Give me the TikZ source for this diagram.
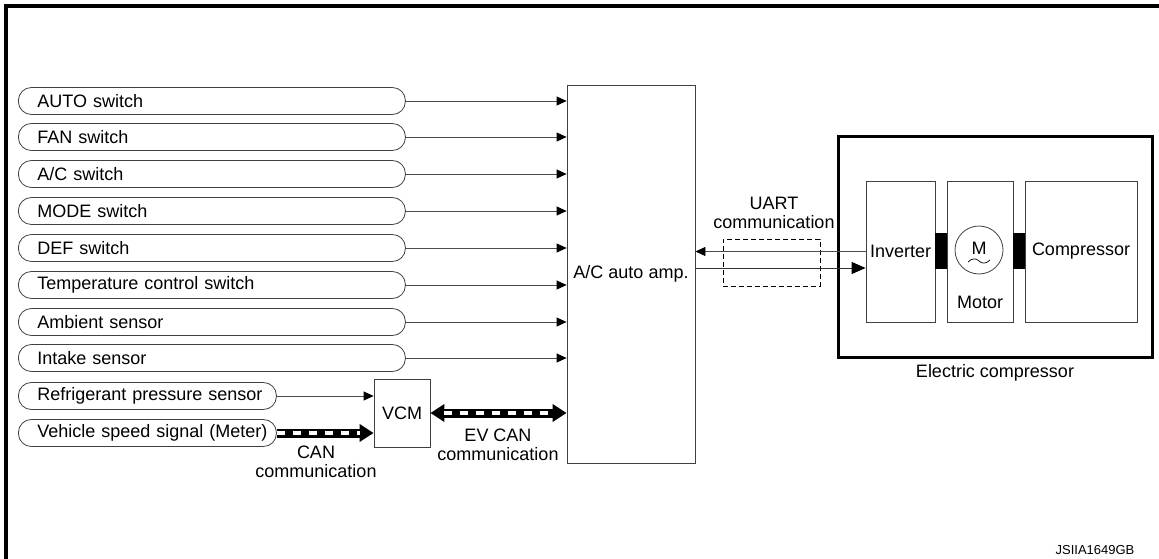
\documentclass[tikz,border=0pt]{standalone}
\usepackage{fontspec}
\setmainfont{Liberation Sans}
\usetikzlibrary{arrows.meta}
\begin{document}
\begin{tikzpicture}[x=1pt,y=-1pt,
  font=\fontsize{18}{19}\selectfont,
  pill/.style={draw=black!75, line width=0.8pt, rounded corners=13pt, minimum height=27pt,
    inner xsep=19pt, inner ysep=0pt, align=left, anchor=west},
  box/.style={draw=black!75, line width=0.8pt, inner sep=0pt},
  sig/.style={draw=black!70, line width=0.8pt, -{Triangle[length=10pt,width=9pt,color=black]}},
  canout/.style={draw=black, line width=9pt},
  canin/.style={draw=white, line width=4.5pt, dash pattern=on 8pt off 8pt},
  bigtip/.tip={Triangle[length=14pt,width=17pt]},
  lbl/.style={align=center, inner sep=0pt}
]
\useasboundingbox (0,0) rectangle (1159,559);
% frame
\draw[line width=3.5pt] (6,559) -- (6,6) -- (1159,6);

% inputs
\node[pill, text width=349pt] (auto) at (18,101) {\mbox{AUTO switch}};
\node[pill, text width=349pt] (fan) at (18,137) {\mbox{FAN switch}};
\node[pill, text width=349pt] (ac) at (18,174) {\mbox{A/C switch}};
\node[pill, text width=349pt] (mode) at (18,211) {\mbox{MODE switch}};
\node[pill, text width=349pt] (def) at (18,248) {\mbox{DEF switch}};
\node[pill, text width=349pt] (temp) at (18,285) {\mbox{Temperature control switch}};
\node[pill, text width=349pt] (amb) at (18,322) {\mbox{Ambient sensor}};
\node[pill, text width=349pt] (intake) at (18,358) {\mbox{Intake sensor}};
\node[pill, text width=220pt] (refr) at (18,396) {\mbox{Refrigerant pressure sensor}};
\node[pill, text width=220pt] (veh) at (18,433) {\mbox{Vehicle speed signal (Meter)}};

% A/C auto amp
\node[box, minimum width=128pt, minimum height=378pt] (amp) at (631,274) {A/C auto amp.};
\foreach \n in {auto,fan,ac,mode,def,temp,amb,intake}
  \draw[sig] (\n.east) -- (\n.east -| amp.west);

% VCM
\node[box, minimum width=56pt, minimum height=68pt] (vcm) at (402,413) {VCM};
\draw[sig] (refr.east) -- (refr.east -| vcm.west);
\draw[canout, -{bigtip}] (veh.east) -- (veh.east -| vcm.west);
\draw[canin, shorten >=14pt] (veh.east) -- (veh.east -| vcm.west);
\draw[canout, {bigtip}-{bigtip}] (vcm.east) -- (vcm.east -| amp.west);
\draw[canin, shorten <=14pt, shorten >=14pt] (vcm.east) -- (vcm.east -| amp.west);
\node[lbl] (canlbl) at (316,461.5) {CAN\\communication};
\node[lbl] (evlbl) at (498,444.5) {EV CAN\\communication};

% electric compressor
\node[draw, line width=3pt, minimum width=314pt, minimum height=220pt, inner sep=0pt] (ec) at (995,247) {};
\node (eclbl) at (995,373) {Electric compressor};
\node[box, minimum width=69pt, minimum height=141pt] (inv) at (900.5,251.5) {Inverter};
\node[box, minimum width=66pt, minimum height=141pt] (mot) at (980,251.5) {};
\node[box, minimum width=112pt, minimum height=141pt] (comp) at (1081,251.5) {Compressor};
\node[fill=black, minimum width=12pt, minimum height=36pt, inner sep=0pt] (cp1) at (941,251) {};
\node[fill=black, minimum width=12pt, minimum height=36pt, inner sep=0pt] (cp2) at (1019,251) {};
\node[circle, draw=black!75, line width=0.8pt, minimum size=48pt, inner sep=0pt] (mc) at (979,250) {};
\node[inner sep=0pt] (mlet) at (979,248) {M};
\draw[line width=0.7pt] (968,262) .. controls (972,258) and (976,258) .. (979,261)
   .. controls (982,264) and (986,264) .. (990,260);
\node (motlbl) at (980,302) {Motor};

% UART
\node[draw, line width=0.8pt, dash pattern=on 5pt off 3pt, minimum width=97pt, minimum height=47pt, inner sep=0pt] (ubox) at (771.5,262.5) {};
\node[lbl] (uartlbl) at (774,213) {UART\\communication};
\draw[sig] (inv.west) -- (inv.west -| amp.east);
\coordinate (ulow) at (695,268);
\draw[draw=black!80, line width=1pt, -{Triangle[length=14pt,width=12pt,color=black]}] (ulow) -- (ulow -| inv.west);

% code
\node[font=\fontsize{13}{15}\selectfont] (code) at (1095,550) {JSIIA1649GB};
\end{tikzpicture}
\end{document}
